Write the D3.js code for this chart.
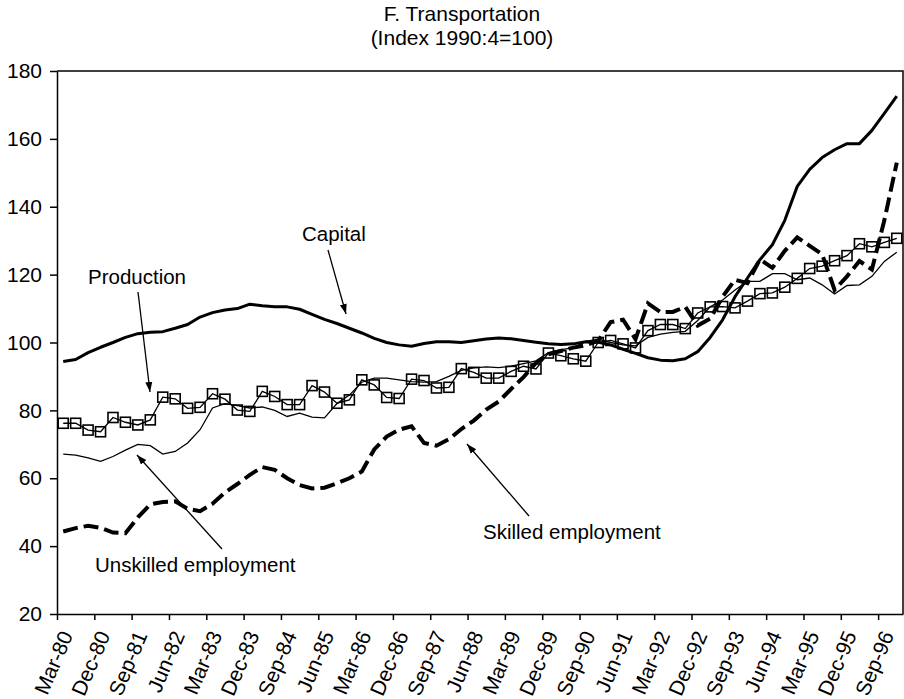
<!DOCTYPE html>
<html>
<head>
  <meta charset="utf-8">
  <title>F. Transportation</title>
  <script src="https://d3js.org/d3.v7.min.js"></script>
  <style>
    body { margin: 0; background: #fff; }
    text { font-family: "Liberation Sans", Arial, sans-serif; fill: #000; }
    .axis text { font-size: 21px; }
    .axis path, .axis line { stroke: #000; stroke-width: 1.5; }
  </style>
</head>
<body>
<div id="chart"></div>
<script>

// tick labels on the time axis (every third quarter, Mar-80 .. Sep-96)
var tickLabels = ["Mar-80", "Dec-80", "Sep-81", "Jun-82", "Mar-83", "Dec-83", "Sep-84", "Jun-85",
  "Mar-86", "Dec-86", "Sep-87", "Jun-88", "Mar-89", "Dec-89", "Sep-90", "Jun-91", "Mar-92",
  "Dec-92", "Sep-93", "Jun-94", "Mar-95", "Dec-95", "Sep-96"];

// quarterly series, Mar-80 .. Dec-96 (68 quarters)
var capital = [94.4, 95.0, 97.0, 98.6, 100.0, 101.5, 102.6, 103.0, 103.2, 104.2,
  105.3, 107.5, 108.8, 109.6, 110.0, 111.3, 110.8, 110.5, 110.5, 109.8,
  108.3, 106.8, 105.6, 104.2, 102.8, 101.2, 100.0, 99.3, 98.9, 99.7,
  100.2, 100.2, 100.0, 100.5, 101.0, 101.3, 101.1, 100.6, 100.1, 99.6,
  99.4, 99.6, 100.2, 100.1, 99.3, 98.0, 96.8, 95.5, 94.8, 94.6,
  95.2, 97.3, 101.5, 106.7, 113.5, 119.0, 124.4, 128.8, 136.0, 146.0,
  151.0, 154.5, 156.8, 158.6, 158.6, 162.5, 167.5, 172.6];

var production = [76.2, 76.2, 74.2, 73.7, 77.9, 76.5, 75.7, 77.2, 83.9, 83.4,
  80.6, 80.9, 84.9, 83.3, 80.1, 79.7, 85.6, 84.1, 81.7, 81.7,
  87.3, 85.4, 82.1, 83.1, 89.0, 87.5, 83.8, 83.5, 89.2, 88.8,
  86.6, 86.8, 92.3, 91.2, 89.5, 89.5, 91.5, 93.0, 92.2, 96.9,
  96.1, 95.2, 94.5, 100.0, 100.6, 99.6, 98.4, 103.5, 105.3, 105.3,
  104.1, 108.7, 110.5, 110.6, 110.2, 112.2, 114.4, 114.6, 116.3, 118.9,
  121.8, 122.5, 124.1, 125.6, 129.1, 128.2, 129.5, 130.7];

var unskilled = [67.1, 66.8, 66.0, 65.0, 66.4, 68.3, 70.0, 69.6, 67.1, 67.9,
  70.4, 74.3, 80.7, 82.0, 81.4, 80.7, 81.0, 80.0, 78.2, 79.2,
  78.0, 77.8, 82.0, 84.5, 88.3, 89.5, 89.5, 89.0, 88.5, 88.3,
  88.5, 90.0, 91.8, 92.5, 92.8, 92.6, 93.0, 93.8, 94.6, 97.0,
  97.9, 98.4, 100.3, 101.0, 100.0, 99.3, 99.0, 101.5, 102.5, 103.0,
  103.3, 106.5, 110.5, 112.5, 115.5, 118.0, 118.0, 120.3, 120.3, 118.5,
  119.0, 117.0, 114.3, 116.8, 117.0, 119.5, 123.9, 126.6];

var skilled = [44.3, 45.3, 46.0, 45.4, 44.0, 43.8, 48.5, 52.3, 53.0, 53.2,
  51.0, 50.3, 52.5, 55.8, 58.3, 61.0, 63.3, 62.5, 60.0, 58.0,
  57.0, 57.2, 58.5, 60.0, 62.0, 68.5, 72.3, 74.3, 75.3, 70.4,
  69.6, 71.5, 74.5, 77.0, 80.2, 82.6, 86.3, 89.8, 94.0, 96.5,
  97.5, 98.5, 99.2, 100.5, 106.0, 106.7, 101.0, 111.5, 109.0, 109.0,
  110.5, 105.0, 107.0, 113.5, 118.5, 117.5, 124.5, 122.0, 127.0, 131.0,
  128.5, 126.0, 115.5, 119.5, 124.0, 121.5, 136.0, 153.0];

var yTicks = [20, 40, 60, 80, 100, 120, 140, 160, 180];

var width = 904, height = 699;
var plotLeft = 57, plotRight = 903, plotTop = 71, plotBottom = 614;

var svg = d3.select("#chart")
  .append("svg")
  .attr("width", width)
  .attr("height", height);

svg.append("rect").attr("width", width).attr("height", height).attr("fill", "#fff");

// scales: one unit per quarter, points sit in the middle of their quarter
var x = d3.scaleLinear().domain([0, 68]).range([plotLeft, plotRight]);
var y = d3.scaleLinear().domain([20, 180]).range([plotBottom, plotTop]);
var px = function (d, i) { return x(i + 0.5); };

// title
svg.append("text").attr("x", 462).attr("y", 21).attr("text-anchor", "middle")
  .style("font-size", "21px").text("F. Transportation");
svg.append("text").attr("x", 462).attr("y", 45).attr("text-anchor", "middle")
  .style("font-size", "21px").text("(Index 1990:4=100)");

// frame (top and right)
svg.append("path")
  .attr("d", "M" + plotLeft + "," + plotTop + "H" + plotRight + "V" + plotBottom)
  .attr("fill", "none").attr("stroke", "#000").attr("stroke-width", 1.5);

// y axis
svg.append("g")
  .attr("class", "axis")
  .attr("transform", "translate(" + plotLeft + ",0)")
  .call(d3.axisLeft(y).tickValues(yTicks).tickSize(7).tickPadding(8).tickSizeOuter(0));

// x axis with rotated labels
var xTickVals = tickLabels.map(function (d, i) { return i * 3; });
var xAxis = svg.append("g")
  .attr("class", "axis")
  .attr("transform", "translate(0," + plotBottom + ")")
  .call(d3.axisBottom(x).tickValues(xTickVals).tickSize(6).tickSizeOuter(0)
    .tickFormat(function (d, i) { return tickLabels[i]; }));
xAxis.selectAll(".tick text")
  .attr("text-anchor", "end")
  .attr("x", 0).attr("y", 0).attr("dy", "0.35em")
  .attr("transform", "translate(9,18) rotate(-67)");

// lines
var line = d3.line().x(px).y(function (d) { return y(d); });

svg.append("path").datum(unskilled)
  .attr("d", line).attr("fill", "none")
  .attr("stroke", "#000").attr("stroke-width", 1.3);

svg.append("path").datum(production)
  .attr("d", line).attr("fill", "none")
  .attr("stroke", "#000").attr("stroke-width", 1.3);

svg.selectAll(".sq").data(production).enter()
  .append("rect")
  .attr("class", "sq")
  .attr("x", function (d, i) { return px(d, i) - 5; })
  .attr("y", function (d) { return y(d) - 5; })
  .attr("width", 10).attr("height", 10)
  .attr("fill", "none").attr("stroke", "#000").attr("stroke-width", 1.6);

svg.append("path").datum(skilled)
  .attr("d", line).attr("fill", "none")
  .attr("stroke", "#000").attr("stroke-width", 4)
  .attr("stroke-dasharray", "15,6");

svg.append("path").datum(capital)
  .attr("d", line).attr("fill", "none")
  .attr("stroke", "#000").attr("stroke-width", 3)
  .attr("stroke-linejoin", "round");

// arrow marker
svg.append("defs").append("marker")
  .attr("id", "arrow")
  .attr("viewBox", "0 0 10 10")
  .attr("refX", 10).attr("refY", 5)
  .attr("markerWidth", 10).attr("markerHeight", 10)
  .attr("markerUnits", "userSpaceOnUse")
  .attr("orient", "auto")
  .append("path").attr("d", "M0,1.5L10,5L0,8.5Z").attr("fill", "#000");

// annotations: label text and arrow from label to line
var notes = [
  { text: "Capital", tx: 302, ty: 241, x1: 328, y1: 250, x2: 346, y2: 314 },
  { text: "Production", tx: 88, ty: 284, x1: 138, y1: 292, x2: 150, y2: 392 },
  { text: "Unskilled employment", tx: 95, ty: 572, x1: 222, y1: 549, x2: 137, y2: 455 },
  { text: "Skilled employment", tx: 483, ty: 539, x1: 529, y1: 516, x2: 467, y2: 444 }
];

svg.selectAll(".note").data(notes).enter()
  .append("text")
  .attr("class", "note")
  .attr("x", function (d) { return d.tx; })
  .attr("y", function (d) { return d.ty; })
  .style("font-size", "20.5px")
  .text(function (d) { return d.text; });

svg.selectAll(".arrow").data(notes).enter()
  .append("line")
  .attr("class", "arrow")
  .attr("x1", function (d) { return d.x1; })
  .attr("y1", function (d) { return d.y1; })
  .attr("x2", function (d) { return d.x2; })
  .attr("y2", function (d) { return d.y2; })
  .attr("stroke", "#000").attr("stroke-width", 1.3)
  .attr("marker-end", "url(#arrow)");

</script>
</body>
</html>
